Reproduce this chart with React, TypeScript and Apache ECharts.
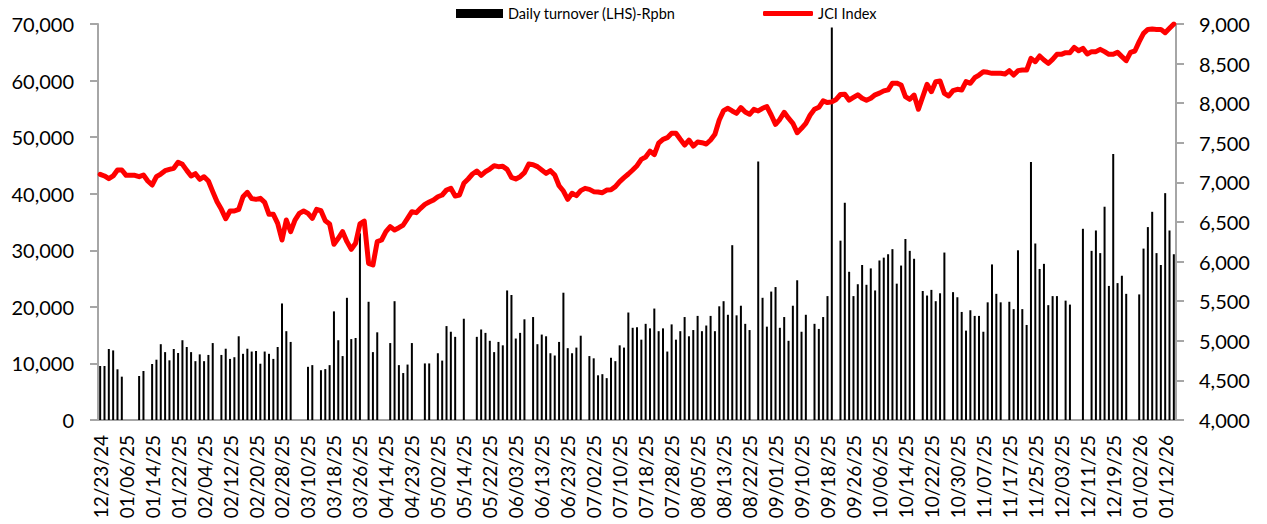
import React, { useEffect, useRef } from "react";
import * as echarts from "echarts";

const dates: string[] = [
  "12/23/24","12/24/24","12/27/24","12/30/24","01/02/25","01/03/25","01/06/25","01/07/25","01/08/25","01/09/25",
  "01/10/25","01/13/25","01/14/25","01/15/25","01/16/25","01/17/25","01/20/25","01/21/25","01/22/25","01/23/25",
  "01/24/25","01/30/25","01/31/25","02/03/25","02/04/25","02/05/25","02/06/25","02/07/25","02/10/25","02/11/25",
  "02/12/25","02/13/25","02/14/25","02/17/25","02/18/25","02/19/25","02/20/25","02/21/25","02/24/25","02/25/25",
  "02/26/25","02/27/25","02/28/25","03/03/25","03/04/25","03/05/25","03/06/25","03/07/25","03/10/25","03/11/25",
  "03/12/25","03/13/25","03/14/25","03/17/25","03/18/25","03/19/25","03/20/25","03/21/25","03/24/25","03/25/25",
  "03/26/25","03/27/25","04/08/25","04/09/25","04/10/25","04/11/25","04/14/25","04/15/25","04/16/25","04/17/25",
  "04/21/25","04/22/25","04/23/25","04/24/25","04/25/25","04/28/25","04/29/25","04/30/25","05/02/25","05/05/25",
  "05/06/25","05/07/25","05/08/25","05/09/25","05/14/25","05/15/25","05/16/25","05/19/25","05/20/25","05/21/25",
  "05/22/25","05/23/25","05/26/25","05/27/25","05/28/25","06/02/25","06/03/25","06/04/25","06/05/25","06/10/25",
  "06/11/25","06/12/25","06/13/25","06/16/25","06/17/25","06/18/25","06/19/25","06/20/25","06/23/25","06/24/25",
  "06/25/25","06/26/25","06/30/25","07/01/25","07/02/25","07/03/25","07/04/25","07/07/25","07/08/25","07/09/25",
  "07/10/25","07/11/25","07/14/25","07/15/25","07/16/25","07/17/25","07/18/25","07/21/25","07/22/25","07/23/25",
  "07/24/25","07/25/25","07/28/25","07/29/25","07/30/25","07/31/25","08/01/25","08/04/25","08/05/25","08/06/25",
  "08/07/25","08/08/25","08/11/25","08/12/25","08/13/25","08/14/25","08/15/25","08/19/25","08/20/25","08/21/25",
  "08/22/25","08/25/25","08/26/25","08/27/25","08/28/25","08/29/25","09/01/25","09/02/25","09/03/25","09/04/25",
  "09/08/25","09/09/25","09/10/25","09/11/25","09/12/25","09/15/25","09/16/25","09/17/25","09/18/25","09/19/25",
  "09/22/25","09/23/25","09/24/25","09/25/25","09/26/25","09/29/25","09/30/25","10/01/25","10/02/25","10/03/25",
  "10/06/25","10/07/25","10/08/25","10/09/25","10/10/25","10/13/25","10/14/25","10/15/25","10/16/25","10/17/25",
  "10/20/25","10/21/25","10/22/25","10/23/25","10/24/25","10/27/25","10/28/25","10/29/25","10/30/25","10/31/25",
  "11/03/25","11/04/25","11/05/25","11/06/25","11/07/25","11/10/25","11/11/25","11/12/25","11/13/25","11/14/25",
  "11/17/25","11/18/25","11/19/25","11/20/25","11/21/25","11/24/25","11/25/25","11/26/25","11/27/25","11/28/25",
  "12/01/25","12/02/25","12/03/25","12/04/25","12/05/25","12/08/25","12/09/25","12/10/25","12/11/25","12/12/25",
  "12/15/25","12/16/25","12/17/25","12/18/25","12/19/25","12/22/25","12/23/25","12/24/25","12/29/25","12/30/25",
  "01/02/26","01/05/26","01/06/26","01/07/26","01/08/26","01/09/26","01/12/26","01/13/26","01/14/26",
];

// Daily turnover, Rp bn (null = no bar)
const turnover: (number | null)[] = [
  9550, 9550, 12550, 12300, 8960, 7660, null, null, null, 7780,
  8660, null, 9900, 10660, 13400, 12000, 10550, 12550, 11840, 14100,
  12900, 12000, 10400, 11600, 10400, 11500, 13600, null, 11500, 12600,
  10800, 11100, 14800, 11700, 12600, 12100, 12200, 9950, 12100, 11700,
  10800, 12900, 20600, 15700, 13800, null, null, null, 9400, 9700,
  null, 8800, 9000, 9700, 19200, 14100, 11300, 21600, 14300, 14500,
  33000, null, 20900, 12000, 15500, null, null, 13600, 21000, 9700,
  8300, 9800, 13600, null, null, 10000, 10000, null, 11800, 10500,
  16600, 15600, 14700, null, 17900, null, null, 14700, 16000, 15400,
  14000, 12000, 13800, 13200, 22900, 22100, 14400, 15400, 17800, null,
  18200, 13400, 15100, 14800, 11800, 11400, 13800, 22500, 12700, 11800,
  12800, 14900, null, 11300, 10900, 7900, 8100, 7400, 11000, 10400,
  13200, 12800, 19000, 16300, 16400, 14200, 17000, 16200, 19700, 15700,
  16200, 12100, 16900, 14200, 15700, 18200, 14800, 15900, 18400, 15700,
  16700, 18400, 15700, 20100, 21000, 18600, 30900, 18500, 20200, 17000,
  15900, null, 45700, 21600, 16500, 22700, 23500, 16300, 18200, 14000,
  20200, 24700, 15600, 18600, null, 17000, 16100, 18200, 21900, 69400,
  null, 31700, 38400, 26200, 21900, 24000, 27400, 23900, 26800, 22900,
  28200, 28700, 29300, 30200, 24100, 27300, 32000, 29900, 28500, null,
  22800, 22000, 23000, 21000, 22400, 29600, null, 22600, 21700, 19100,
  15800, 19400, 18400, 18400, 15600, 20800, 27500, 22300, 20800, null,
  20900, 19600, 30000, 19600, 16800, 45600, 31200, 26700, 27600, 20300,
  21900, 21900, null, 21100, 20400, null, null, 33800, null, 29900,
  33500, 29500, 37700, 23700, 47000, 24200, 25500, 22300, null, null,
  22200, 30300, 34100, 36800, 29500, 27400, 40100, 33500, 29300,
];

// JCI Index close
const jci: number[] = [
  7102, 7081, 7047, 7081, 7157, 7157, 7089, 7089, 7089, 7072,
  7093, 7018, 6967, 7072, 7106, 7148, 7165, 7178, 7254, 7228,
  7152, 7081, 7110, 7039, 7072, 7018, 6883, 6756, 6660, 6542,
  6639, 6639, 6660, 6819, 6875, 6795, 6786, 6799, 6748, 6597,
  6597, 6482, 6273, 6525, 6378, 6525, 6609, 6639, 6609, 6546,
  6660, 6643, 6517, 6475, 6218, 6294, 6378, 6252, 6155, 6231,
  6475, 6510, 5978, 5957, 6252, 6273, 6378, 6441, 6399, 6428,
  6462, 6546, 6630, 6618, 6673, 6723, 6752, 6778, 6819, 6841,
  6904, 6925, 6828, 6841, 6988, 7043, 7106, 7144, 7089, 7135,
  7169, 7211, 7199, 7203, 7165, 7064, 7043, 7072, 7123, 7232,
  7224, 7199, 7157, 7114, 7148, 7093, 6958, 6891, 6786, 6862,
  6833, 6896, 6925, 6912, 6883, 6879, 6870, 6904, 6908, 6946,
  7009, 7060, 7106, 7157, 7211, 7291, 7320, 7395, 7350, 7495,
  7544, 7565, 7620, 7620, 7544, 7472, 7535, 7459, 7510, 7501,
  7485, 7535, 7607, 7788, 7906, 7936, 7902, 7872, 7944, 7889,
  7860, 7923, 7902, 7936, 7957, 7851, 7733, 7797, 7885, 7810,
  7746, 7628, 7683, 7746, 7851, 7923, 7948, 8029, 8008, 8017,
  8047, 8110, 8114, 8038, 8072, 8106, 8063, 8038, 8063, 8106,
  8127, 8156, 8169, 8253, 8253, 8230, 8082, 8049, 8103, 7923,
  8082, 8238, 8145, 8272, 8280, 8124, 8091, 8158, 8175, 8167,
  8272, 8251, 8322, 8356, 8398, 8390, 8377, 8377, 8377, 8369,
  8411, 8356, 8411, 8419, 8419, 8566, 8524, 8596, 8545, 8503,
  8553, 8617, 8617, 8638, 8638, 8705, 8663, 8692, 8621, 8651,
  8651, 8680, 8651, 8617, 8617, 8642, 8588, 8537, 8642, 8659,
  8777, 8882, 8932, 8936, 8932, 8932, 8890, 8945, 9000,
];

const BAR_NAME = "Daily turnover (LHS)-Rpbn";
const LINE_NAME = "JCI Index";
const FONT = "Lato, 'Noto Sans', sans-serif";

export default function App() {
  const ref = useRef<HTMLDivElement>(null);
  useEffect(() => {
    if (!ref.current) return;
    const chart = echarts.init(ref.current, null, { renderer: "svg" });
    const fmt = (v: number) => v.toLocaleString("en-US");
    const axisColor = "#a6a6a6";
    chart.setOption({
      animation: false,
      backgroundColor: "#ffffff",
      textStyle: { fontFamily: FONT },
      legend: [
        {
          data: [{ name: BAR_NAME, icon: "rect" }],
          left: 451,
          top: 1,
          itemWidth: 47,
          itemHeight: 9,
          textStyle: { fontFamily: FONT, fontSize: 14.5, color: "#000" },
          selectedMode: false,
        },
        {
          data: [{ name: LINE_NAME, icon: "roundRect" }],
          left: 758,
          top: 1,
          itemWidth: 50,
          itemHeight: 5,
          textStyle: { fontFamily: FONT, fontSize: 14.5, color: "#000" },
          selectedMode: false,
        },
      ],
      grid: { left: 98, right: 91, top: 24, bottom: 104, containLabel: false },
      xAxis: {
        type: "category",
        data: dates,
        boundaryGap: true,
        axisLine: { lineStyle: { color: axisColor, width: 2 } },
        axisTick: { show: false },
        axisLabel: {
          interval: 5,
          rotate: 90,
          margin: 15,
          fontFamily: FONT,
          fontSize: 19,
          color: "#000",
        },
      },
      yAxis: [
        {
          type: "value",
          min: 0,
          max: 70000,
          interval: 10000,
          splitLine: { show: false },
          axisLine: { show: true, lineStyle: { color: axisColor, width: 2 } },
          axisTick: { show: true, length: 8, lineStyle: { color: axisColor, width: 2 } },
          axisLabel: { formatter: fmt, margin: 24, fontFamily: FONT, fontSize: 20, color: "#000" },
        },
        {
          type: "value",
          min: 4000,
          max: 9000,
          interval: 500,
          position: "right",
          splitLine: { show: false },
          axisLine: { show: true, lineStyle: { color: axisColor, width: 2 } },
          axisTick: { show: true, length: 8, lineStyle: { color: axisColor, width: 2 } },
          axisLabel: { formatter: fmt, margin: 23, fontFamily: FONT, fontSize: 20, color: "#000" },
        },
      ],
      series: [
        {
          name: BAR_NAME,
          type: "bar",
          data: turnover,
          barWidth: 2,
          itemStyle: { color: "#000000" },
          yAxisIndex: 0,
        },
        {
          name: LINE_NAME,
          type: "line",
          data: jci,
          yAxisIndex: 1,
          symbol: "none",
          showSymbol: false,
          itemStyle: { color: "#ff0000" },
          lineStyle: { color: "#ff0000", width: 5, cap: "round", join: "round" },
          z: 5,
        },
      ],
    });
    return () => chart.dispose();
  }, []);
  return (
    <div
      ref={ref}
      style={{ position: "fixed", left: 0, top: 0, width: 1267, height: 524, background: "#fff" }}
    />
  );
}
